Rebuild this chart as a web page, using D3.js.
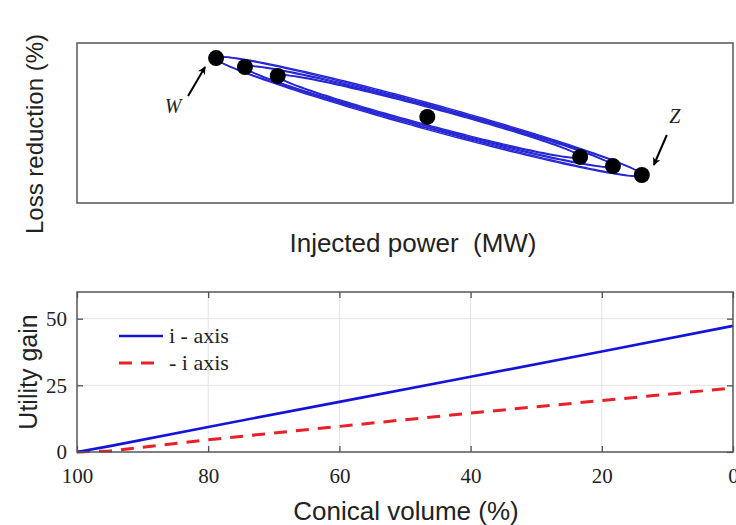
<!DOCTYPE html>
<html>
<head>
<meta charset="utf-8">
<script src="https://cdn.jsdelivr.net/npm/d3@7"></script>
<style>
  body { margin: 0; background: #fff; }
  svg { display: block; }
  .frame { fill: none; stroke: #555; stroke-width: 1.5; }
  .grid line { stroke: #e3e3e3; stroke-width: 1; }
  .ticklab { font-family: 'Liberation Serif', 'Times New Roman', serif; font-size: 21px; fill: #222; }
  .label { font-family: 'Liberation Sans', Arial, sans-serif; font-size: 26px; fill: #222; }
</style>
</head>
<body>
<div id="chart"></div>
<script>
const width = 736;
const height = 525;

// top panel: operating points (schematic, no tick labels)
const injectedPower = [21.2, 25.6, 30.6, 53.4, 76.7, 81.7, 86.1];
const lossReduction = [90.6, 85.0, 79.4, 53.8, 28.8, 23.1, 17.5];
const loopEnds = [[0, 6], [1, 5], [2, 4]];
const pointNames = [['W', 0], ['Z', 6]];

// bottom panel
const conicalVolume = [100, 95, 80, 60, 40, 20, 0];
const gainPlusAxis = [0, 2.2, 9.4, 18.8, 28.2, 37.7, 47.3];
const gainMinusAxis = [0, 0.4, 4.6, 9.6, 14.6, 19.3, 24.0];
const seriesNames = ['i - axis', '- i axis'];
const xTicks = [100, 80, 60, 40, 20, 0];
const yTicks = [0, 25, 50];

const svg = d3.select('#chart').append('svg').attr('width', width).attr('height', height);

// ---------- top panel ----------
const upper = { left: 77, right: 733, top: 43, bottom: 203 };
const px = d3.scaleLinear().domain([0, 100]).range([upper.left, upper.right]);
const py = d3.scaleLinear().domain([0, 100]).range([upper.bottom, upper.top]);

svg.append('rect')
  .attr('class', 'frame')
  .attr('x', upper.left).attr('y', upper.top)
  .attr('width', upper.right - upper.left).attr('height', upper.bottom - upper.top);

const pts = injectedPower.map((p, i) => [px(p), py(lossReduction[i])]);

// each loop is an ellipse whose major axis joins two operating points
const ringWidths = [[13, 11.7], [11.2, 10], [9.7, 8.6]];
const ellipsePath = (a, b, minor) => {
  const cx = (a[0] + b[0]) / 2;
  const cy = (a[1] + b[1]) / 2;
  const half = Math.hypot(b[0] - a[0], b[1] - a[1]) / 2;
  const th = Math.atan2(b[1] - a[1], b[0] - a[0]);
  const ring = d3.range(0, 361, 2).map((deg) => {
    const t = (deg * Math.PI) / 180;
    const u = half * Math.cos(t);
    const v = minor * Math.sin(t);
    return [cx + u * Math.cos(th) - v * Math.sin(th), cy + u * Math.sin(th) + v * Math.cos(th)];
  });
  return d3.line()(ring);
};

const loops = svg.append('g');
loopEnds.forEach(([i, j], k) => {
  ringWidths[k].forEach((w) => {
    loops.append('path')
      .attr('d', ellipsePath(pts[i], pts[j], w))
      .attr('fill', 'none')
      .attr('stroke', '#2626d4')
      .attr('stroke-width', 1.4);
  });
});

svg.append('g').selectAll('circle')
  .data(pts)
  .join('circle')
  .attr('cx', (d) => d[0])
  .attr('cy', (d) => d[1])
  .attr('r', 8)
  .attr('fill', '#000');

// W / Z callouts
svg.append('defs').append('marker')
  .attr('id', 'head')
  .attr('viewBox', '0 0 10 10')
  .attr('refX', 9).attr('refY', 5)
  .attr('markerWidth', 8).attr('markerHeight', 8)
  .attr('markerUnits', 'userSpaceOnUse')
  .attr('orient', 'auto')
  .append('path')
  .attr('d', 'M0,0 L10,5 L0,10 L3,5 Z')
  .attr('fill', '#000');

const callouts = { W: { tip: [-11, 9], tail: [-28, 38], text: [-43, 50] }, Z: { tip: [12, -10], tail: [25, -40], text: [33, -57] } };
pointNames.forEach(([name, idx]) => {
  const c = callouts[name];
  const p = pts[idx];
  svg.append('line')
    .attr('x1', p[0] + c.tail[0]).attr('y1', p[1] + c.tail[1])
    .attr('x2', p[0] + c.tip[0]).attr('y2', p[1] + c.tip[1])
    .attr('stroke', '#000')
    .attr('stroke-width', 2)
    .attr('marker-end', 'url(#head)');
  svg.append('text')
    .attr('x', p[0] + c.text[0]).attr('y', p[1] + c.text[1])
    .attr('text-anchor', 'middle')
    .attr('dominant-baseline', 'middle')
    .style('font-family', "'Liberation Serif', serif")
    .style('font-style', 'italic')
    .style('font-size', '20px')
    .attr('fill', '#222')
    .text(name);
});

svg.append('text')
  .attr('class', 'label')
  .style('font-size', '24px')
  .attr('transform', 'translate(43, 134) rotate(-90)')
  .attr('text-anchor', 'middle')
  .text('Loss reduction (%)');

svg.append('text')
  .attr('class', 'label')
  .attr('x', 413)
  .attr('y', 252)
  .attr('text-anchor', 'middle')
  .style('white-space', 'pre')
  .text('Injected power  (MW)');

// ---------- bottom panel ----------
const bot = { left: 77, right: 733, top: 292, bottom: 452 };
const x = d3.scaleLinear().domain([100, 0]).range([bot.left, bot.right]);
const y = d3.scaleLinear().domain([0, 60]).range([bot.bottom, bot.top]);

const grid = svg.append('g').attr('class', 'grid');
grid.selectAll('.gx').data(xTicks.slice(1, -1)).join('line')
  .attr('x1', (d) => x(d)).attr('x2', (d) => x(d))
  .attr('y1', bot.top).attr('y2', bot.bottom);
grid.selectAll('.gy').data(yTicks.slice(1)).join('line')
  .attr('x1', bot.left).attr('x2', bot.right)
  .attr('y1', (d) => y(d)).attr('y2', (d) => y(d));

const lineGen = (vals) => d3.line()
  .x((d, i) => x(conicalVolume[i]))
  .y((d) => y(d))(vals);

svg.append('path')
  .attr('d', lineGen(gainMinusAxis))
  .attr('fill', 'none')
  .attr('stroke', '#e8202a')
  .attr('stroke-width', 3)
  .attr('stroke-dasharray', '13 9');

svg.append('path')
  .attr('d', lineGen(gainPlusAxis))
  .attr('fill', 'none')
  .attr('stroke', '#1414d8')
  .attr('stroke-width', 2.6);

const xAxis = d3.axisBottom(x).tickValues(xTicks).tickSizeInner(-6).tickSizeOuter(0).tickPadding(16);
const yAxis = d3.axisLeft(y).tickValues(yTicks).tickSizeInner(-6).tickSizeOuter(0).tickPadding(10);

const gx = svg.append('g').attr('transform', `translate(0, ${bot.bottom})`).call(xAxis);
const gy = svg.append('g').attr('transform', `translate(${bot.left}, 0)`).call(yAxis);
svg.append('g').attr('transform', `translate(0, ${bot.top})`)
  .call(d3.axisTop(x).tickValues(xTicks).tickSizeInner(-6).tickSizeOuter(0).tickFormat(''));
svg.append('g').attr('transform', `translate(${bot.right}, 0)`)
  .call(d3.axisRight(y).tickValues(yTicks).tickSizeInner(-6).tickSizeOuter(0).tickFormat(''));

svg.selectAll('.domain').remove();
svg.selectAll('.tick line').attr('stroke', '#444').attr('stroke-width', 1.2);
[gx, gy].forEach((g) => g.selectAll('.tick text').attr('class', 'ticklab').attr('fill', null));
gx.selectAll('.tick text').attr('dy', '0.71em');

svg.append('rect')
  .attr('class', 'frame')
  .attr('x', bot.left).attr('y', bot.top)
  .attr('width', bot.right - bot.left).attr('height', bot.bottom - bot.top);

svg.append('text')
  .attr('class', 'label')
  .style('font-size', '25px')
  .attr('transform', `translate(37, ${(bot.top + bot.bottom) / 2}) rotate(-90)`)
  .attr('text-anchor', 'middle')
  .text('Utility gain');

svg.append('text')
  .attr('class', 'label')
  .attr('x', 406)
  .attr('y', 520)
  .attr('text-anchor', 'middle')
  .text('Conical volume (%)');

// legend
const legend = svg.append('g').attr('transform', 'translate(119, 336)');
const legendItems = [
  { name: seriesNames[0], color: '#1414d8', dash: null, w: 2.6 },
  { name: seriesNames[1], color: '#e8202a', dash: '13 9', w: 3 },
];
legendItems.forEach((it, i) => {
  const g = legend.append('g').attr('transform', `translate(0, ${i * 27})`);
  g.append('line')
    .attr('x1', 0).attr('x2', 44)
    .attr('stroke', it.color)
    .attr('stroke-width', it.w)
    .attr('stroke-dasharray', it.dash);
  g.append('text')
    .attr('x', 50)
    .attr('dy', '0.32em')
    .attr('class', 'ticklab')
    .style('font-size', '22px')
    .text(it.name);
});
</script>
</body>
</html>
